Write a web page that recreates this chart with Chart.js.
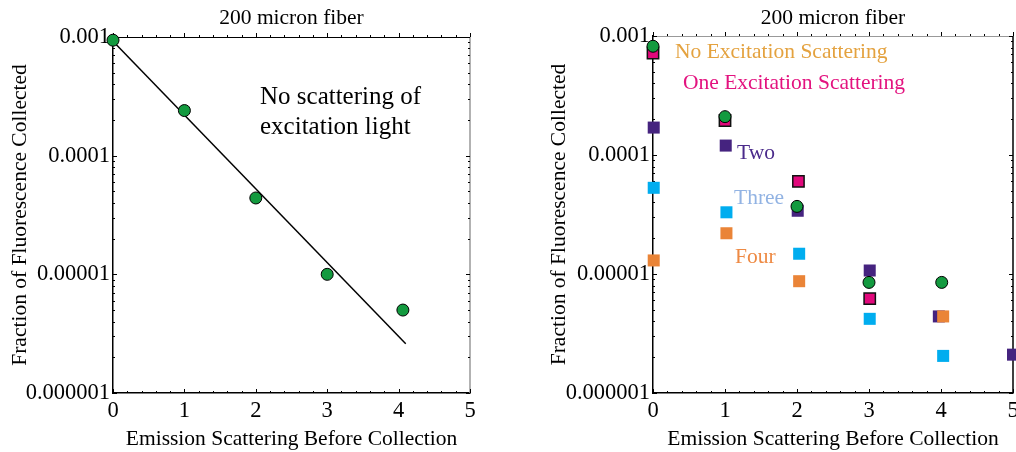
<!DOCTYPE html>
<html>
<head>
<meta charset="utf-8">
<script src="https://cdn.jsdelivr.net/npm/chart.js@4.4.1/dist/chart.umd.min.js"></script>
<style>
	html, body { margin: 0; padding: 0; background: #fff; }
	#wrap { position: relative; width: 1016px; height: 452px; overflow: hidden; }
	#leftChart { position: absolute; left: 0; top: 0; }
	#rightChart { position: absolute; left: 530px; top: 0; }
</style>
</head>
<body>
<div id="wrap">
	<canvas id="leftChart" width="530" height="452"></canvas>
	<canvas id="rightChart" width="506" height="452"></canvas>
</div>
<script>
const titleText = '200 micron fiber';
const xTitle = 'Emission Scattering Before Collection';
const yTitle = 'Fraction of Fluorescence Collected';
const xTicks = [0, 1, 2, 3, 4, 5];
const yTicks = [0.000001, 0.00001, 0.0001, 0.001];
const yTickLabels = ['0.000001', '0.00001', '0.0001', '0.001'];

// left panel: no scattering of excitation light
const leftX = [0, 1, 2, 3, 4.06];
const leftY = [0.00094, 0.00024, 0.000044, 0.00001, 0.000005];
const fitX = [0, 4.1];
const fitY = [0.00092, 0.0000026];
const leftNote = ['No scattering of', 'excitation light'];

// right panel: number of excitation scatterings
const noneX = [0, 1, 2, 3, 4.01];
const noneY = [0.00082, 0.00021, 0.000037, 0.0000085, 0.0000085];
const oneX = [0, 1, 2.02, 3.01];
const oneY = [0.00072, 0.000195, 0.00006, 0.0000062];
const twoX = [0.01, 1.01, 2.01, 3.01, 3.97, 5];
const twoY = [0.00017, 0.00012, 0.000034, 0.0000107, 0.0000044, 0.0000021];
const threeX = [0.01, 1.02, 2.03, 3.01, 4.03];
const threeY = [0.000053, 0.000033, 0.0000148, 0.0000042, 0.00000205];
const fourX = [0.01, 1.02, 2.03, 4.03];
const fourY = [0.000013, 0.000022, 0.0000087, 0.0000044];
const rightNotes = ['No Excitation Scattering', 'One Excitation Scattering', 'Two', 'Three', 'Four'];

const serif = "'Liberation Serif', 'DejaVu Serif', serif";

function pts(xs, ys) {
	return xs.map((x, i) => ({x: x, y: ys[i]}));
}

function line(ctx, x1, y1, x2, y2) {
	ctx.beginPath();
	ctx.moveTo(x1, y1);
	ctx.lineTo(x2, y2);
	ctx.stroke();
}

// frame on the top and right, plus small ticks on all four sides
const framePlugin = {
	id: 'frame',
	beforeDatasetsDraw(chart, args, opts) {
		const ctx = chart.ctx;
		const a = chart.chartArea;
		const x = chart.scales.x;
		const y = chart.scales.y;
		ctx.save();
		ctx.lineWidth = 1;
		ctx.strokeStyle = opts.topColor;
		line(ctx, a.left, Math.round(a.top) + 0.5, a.right, Math.round(a.top) + 0.5);
		ctx.strokeStyle = opts.rightColor;
		ctx.lineWidth = 1.5;
		line(ctx, a.right, a.top, a.right, a.bottom);
		ctx.lineWidth = 1;
		ctx.strokeStyle = '#000';
		for (let i = 0; i < xTicks.length; i++) {
			let steps = i < xTicks.length - 1 ? 5 : 1;
			for (let k = 0; k < steps; k++) {
				let v = xTicks[i] + (i < xTicks.length - 1 ? k * (xTicks[i + 1] - xTicks[i]) / 5 : 0);
				let len = k === 0 ? 4 : 2;
				let px = Math.round(x.getPixelForValue(v)) + 0.5;
				line(ctx, px, a.bottom, px, a.bottom - len);
				line(ctx, px, a.top, px, a.top - len);
			}
		}
		for (let i = 0; i < yTicks.length; i++) {
			let steps = i < yTicks.length - 1 ? 9 : 1;
			for (let m = 1; m <= steps; m++) {
				let v = yTicks[i] * m;
				let len = m === 1 ? 4 : 2;
				let py = Math.round(y.getPixelForValue(v)) + 0.5;
				line(ctx, a.left, py, a.left + len, py);
				line(ctx, a.right, py, a.right - len, py);
			}
		}
		ctx.restore();
	}
};

// free text placed inside the plot area
const notesPlugin = {
	id: 'notes',
	afterDatasetsDraw(chart, args, opts) {
		const ctx = chart.ctx;
		const a = chart.chartArea;
		ctx.save();
		ctx.textAlign = 'left';
		ctx.textBaseline = 'middle';
		opts.items.forEach(it => {
			ctx.font = it.size + 'px ' + serif;
			ctx.fillStyle = it.color;
			ctx.fillText(it.text, a.left + it.dx, a.top + it.dy);
		});
		ctx.restore();
	}
};

function makeConfig(datasets, p) {
	let xScaleConfig = {
		type: 'linear',
		min: 0,
		max: 5,
		afterBuildTicks: s => { s.ticks = xTicks.map(v => ({value: v})); },
		afterFit: s => { s.height = p.xHeight; },
		grid: { display: false, drawTicks: false },
		border: { display: true, color: '#000', width: 1.5 },
		ticks: {
			color: '#000',
			font: { family: serif, size: 22.5 },
			padding: 5,
			maxRotation: 0,
			autoSkip: false
		},
		title: {
			display: true,
			text: xTitle,
			color: '#000',
			font: { family: serif, size: 21.5 },
			padding: { top: 0, bottom: 0 }
		}
	};

	let yScaleConfig = {
		type: 'logarithmic',
		min: 0.000001,
		max: 0.001,
		afterBuildTicks: s => { s.ticks = yTicks.map(v => ({value: v})); },
		afterFit: s => {
			s.width = p.yWidth;
			s.paddingTop = 0;
			s.paddingBottom = 0;
		},
		grid: { display: false, drawTicks: false },
		border: { display: true, color: '#000', width: 1.5 },
		ticks: {
			color: '#000',
			font: { family: serif, size: 22.5 },
			padding: 3,
			autoSkip: false,
			callback: (v, i) => yTickLabels[i]
		},
		title: {
			display: true,
			text: yTitle,
			color: '#000',
			font: { family: serif, size: 21.5 },
			padding: { top: p.yTitlePad, bottom: 0 }
		}
	};

	return {
		type: 'scatter',
		data: { datasets: datasets },
		options: {
			responsive: false,
			animation: false,
			layout: { padding: { left: 0, right: p.padRight, top: 0, bottom: 0 } },
			scales: {
				x: xScaleConfig,
				y: yScaleConfig
			},
			plugins: {
				legend: { display: false },
				tooltip: { enabled: false },
				title: {
					display: true,
					fullSize: false,
					text: titleText,
					color: '#000',
					font: { family: serif, size: 21.5, weight: 'normal' },
					padding: { top: 5, bottom: p.titleBottom }
				},
				frame: { topColor: p.topColor, rightColor: p.rightColor },
				notes: { items: p.notes }
			}
		},
		plugins: [framePlugin, notesPlugin]
	};
}

document.addEventListener('DOMContentLoaded', () => {
	let leftSets = [
		{
			data: pts(leftX, leftY),
			backgroundColor: '#139a3f',
			borderColor: '#000',
			borderWidth: 1,
			pointRadius: 6,
			clip: false
		},
		{
			data: pts(fitX, fitY),
			showLine: true,
			borderColor: '#000',
			borderWidth: 1.5,
			pointRadius: 0,
			clip: false
		}
	];

	new Chart(document.getElementById('leftChart').getContext('2d'), makeConfig(leftSets, {
		xHeight: 59,
		yWidth: 113,
		yTitlePad: 7,
		padRight: 60,
		titleBottom: 6.2,
		topColor: '#000',
		rightColor: '#999',
		notes: [
			{ text: leftNote[0], color: '#000', size: 25, dx: 147, dy: 60 },
			{ text: leftNote[1], color: '#000', size: 25, dx: 147, dy: 90 }
		]
	}));

	let sq = (xs, ys, color) => ({
		data: pts(xs, ys),
		pointStyle: 'rect',
		backgroundColor: color,
		borderColor: color,
		borderWidth: 0,
		pointRadius: 8.5,
		clip: false
	});

	let rightSets = [
		{
			data: pts(noneX, noneY),
			backgroundColor: '#139a3f',
			borderColor: '#000',
			borderWidth: 1,
			pointRadius: 6,
			clip: false
		},
		{
			data: pts(oneX, oneY),
			pointStyle: 'rect',
			backgroundColor: '#e2087c',
			borderColor: '#111',
			borderWidth: 1.5,
			pointRadius: 8,
			clip: false
		},
		sq(fourX, fourY, '#ea8437'),
		sq(threeX, threeY, '#00adef'),
		sq(twoX, twoY, '#45237f')
	];

	// canvas runs past the window edge; the wrapper clips it like the original
	new Chart(document.getElementById('rightChart').getContext('2d'), makeConfig(rightSets, {
		xHeight: 59,
		yWidth: 123,
		yTitlePad: 16,
		padRight: 23,
		titleBottom: 5.2,
		topColor: '#999',
		rightColor: '#000',
		notes: [
			{ text: rightNotes[0], color: '#e4a23f', size: 21.5, dx: 22, dy: 16 },
			{ text: rightNotes[1], color: '#e3127f', size: 21.5, dx: 30, dy: 47 },
			{ text: rightNotes[2], color: '#4b2b8b', size: 21.5, dx: 84, dy: 117 },
			{ text: rightNotes[3], color: '#92b3e3', size: 21.5, dx: 81, dy: 162 },
			{ text: rightNotes[4], color: '#ee8a44', size: 21.5, dx: 82, dy: 221 }
		]
	}));
});
</script>
</body>
</html>
